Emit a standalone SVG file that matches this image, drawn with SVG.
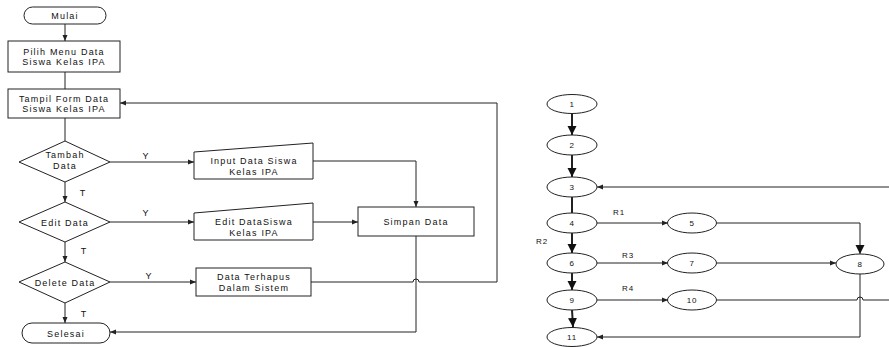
<svg xmlns="http://www.w3.org/2000/svg" width="889" height="347" viewBox="0 0 889 347">
<defs>
<style>
.shape{fill:#fff;stroke:#222;stroke-width:1}
.t{font-family:"Liberation Sans",Arial,sans-serif;font-size:9px;letter-spacing:1.2px;fill:#111;text-anchor:middle}
.n{font-family:"Liberation Sans",Arial,sans-serif;font-size:8px;letter-spacing:0.8px;fill:#111;text-anchor:middle}
.c{fill:none;stroke:#222;stroke-width:1}
.ct{fill:none;stroke:#222;stroke-width:2}
</style>
<marker id="a" markerUnits="userSpaceOnUse" markerWidth="7" markerHeight="6" refX="6" refY="3" orient="auto">
<path d="M0,0.5 L6,3 L0,5.5 z" fill="#222"/>
</marker>
<marker id="b" markerUnits="userSpaceOnUse" markerWidth="10" markerHeight="10" refX="9" refY="5" orient="auto">
<path d="M0,0.5 L9,5 L0,9.5 z" fill="#111"/>
</marker>
</defs>

<g id="connectors">
<line class="c" x1="65" y1="24" x2="65" y2="41" marker-end="url(#a)"/>
<line class="c" x1="65" y1="72" x2="65" y2="89"/>
<line class="c" x1="65" y1="118" x2="65" y2="141"/>
<line class="c" x1="65" y1="182" x2="65" y2="202" marker-end="url(#a)"/>
<line class="c" x1="65" y1="242" x2="65" y2="262" marker-end="url(#a)"/>
<line class="c" x1="65" y1="303" x2="65" y2="323" marker-end="url(#a)"/>
<line class="c" x1="110" y1="162" x2="194" y2="162" marker-end="url(#a)"/>
<line class="c" x1="110" y1="222" x2="194" y2="222" marker-end="url(#a)"/>
<line class="c" x1="110" y1="282" x2="196" y2="282" marker-end="url(#a)"/>
<path class="c" d="M313,161 L416,161 L416,207" marker-end="url(#a)"/>
<line class="c" x1="313" y1="222" x2="358" y2="222" marker-end="url(#a)"/>
<path class="c" d="M416,236 L416,332 L110,332" marker-end="url(#a)"/>
<path class="c" d="M311,282 L413,282 A3,3 0 0 1 419,282 L497,282 L497,103 L120,103" marker-end="url(#a)"/>
<text class="t" x="146" y="159">Y</text>
<text class="t" x="146" y="216">Y</text>
<text class="t" x="149" y="279">Y</text>
<text class="t" x="83" y="196">T</text>
<text class="t" x="84" y="254">T</text>
<text class="t" x="84" y="317">T</text>

<line class="ct" x1="572" y1="113" x2="572" y2="135" marker-end="url(#b)"/>
<line class="ct" x1="572" y1="155" x2="572" y2="177" marker-end="url(#b)"/>
<line class="ct" x1="572" y1="197" x2="572" y2="213"/>
<line class="ct" x1="572" y1="233" x2="572" y2="253" marker-end="url(#b)"/>
<line class="ct" x1="572" y1="273" x2="572" y2="290" marker-end="url(#b)"/>
<line class="ct" x1="572" y1="310" x2="573" y2="327" marker-end="url(#b)"/>
<line class="c" x1="889" y1="187" x2="597" y2="187" marker-end="url(#a)"/>
<line class="c" x1="597" y1="223" x2="668" y2="223" marker-end="url(#a)"/>
<line class="c" x1="597" y1="263" x2="668" y2="263" marker-end="url(#a)"/>
<line class="c" x1="597" y1="300" x2="668" y2="300" marker-end="url(#a)"/>
<path class="c" d="M717,223 L860,223 L860,254" marker-end="url(#b)"/>
<line class="c" x1="717" y1="263" x2="836" y2="263" marker-end="url(#a)"/>
<path class="c" d="M717,300 L857,300 A3,3 0 0 1 863,300 L889,300"/>
<path class="c" d="M860,273 L860,337 L597,337" marker-end="url(#a)"/>
<text class="n" x="619" y="215">R1</text>
<text class="n" x="542" y="244">R2</text>
<text class="n" x="628" y="258">R3</text>
<text class="n" x="628" y="291">R4</text>
</g>

<g id="mulai"><rect class="shape" x="24" y="7" width="82" height="17" rx="8.5"/><text class="t" x="65" y="19">Mulai</text></g>
<g id="pilih"><rect class="shape" x="8" y="41" width="112" height="31"/><text class="t" x="64" y="54.5">Pilih Menu Data</text><text class="t" x="64" y="65">Siswa Kelas IPA</text></g>
<g id="tampil"><rect class="shape" x="8" y="89" width="112" height="29"/><text class="t" x="64" y="101.5">Tampil Form Data</text><text class="t" x="64" y="112">Siswa Kelas IPA</text></g>
<g id="tambah"><polygon class="shape" points="65,141 110,162 65,182 19,162"/><text class="t" x="65" y="158">Tambah</text><text class="t" x="65" y="168.5">Data</text></g>
<g id="edit"><polygon class="shape" points="65,202 110,222 65,242 19,222"/><text class="t" x="65" y="225.5">Edit Data</text></g>
<g id="delete"><polygon class="shape" points="65,262 110,282 65,303 19,282"/><text class="t" x="65" y="285.5">Delete Data</text></g>
<g id="selesai"><rect class="shape" x="22" y="323" width="88" height="20" rx="10"/><text class="t" x="66" y="336.5">Selesai</text></g>
<g id="input"><polygon class="shape" points="194,152 313,143 313,179 194,179"/><text class="t" x="254" y="164">Input Data Siswa</text><text class="t" x="254" y="174.5">Kelas IPA</text></g>
<g id="editdata"><polygon class="shape" points="194,213 313,203 313,240 194,240"/><text class="t" x="254" y="225">Edit DataSiswa</text><text class="t" x="254" y="235.5">Kelas IPA</text></g>
<g id="terhapus"><rect class="shape" x="196" y="268" width="115" height="28"/><text class="t" x="254" y="280">Data Terhapus</text><text class="t" x="254" y="290.5">Dalam Sistem</text></g>
<g id="simpan"><rect class="shape" x="358" y="207" width="116" height="29"/><text class="t" x="416" y="225">Simpan Data</text></g>

<g id="n1"><ellipse class="shape" cx="572" cy="104" rx="25" ry="9.5"/><text class="n" x="572" y="107">1</text></g>
<g id="n2"><ellipse class="shape" cx="572" cy="145" rx="25" ry="10"/><text class="n" x="572" y="148">2</text></g>
<g id="n3"><ellipse class="shape" cx="572" cy="187" rx="25" ry="10"/><text class="n" x="572" y="190">3</text></g>
<g id="n4"><ellipse class="shape" cx="572" cy="223" rx="25" ry="10"/><text class="n" x="572" y="226">4</text></g>
<g id="n5"><ellipse class="shape" cx="692" cy="223" rx="24.5" ry="10"/><text class="n" x="692" y="226">5</text></g>
<g id="n6"><ellipse class="shape" cx="572" cy="263" rx="25" ry="10"/><text class="n" x="572" y="266">6</text></g>
<g id="n7"><ellipse class="shape" cx="692" cy="263" rx="24.5" ry="10"/><text class="n" x="692" y="266">7</text></g>
<g id="n8"><ellipse class="shape" cx="860" cy="264" rx="24" ry="10"/><text class="n" x="860" y="267">8</text></g>
<g id="n9"><ellipse class="shape" cx="572" cy="300" rx="25" ry="10"/><text class="n" x="572" y="303">9</text></g>
<g id="n10"><ellipse class="shape" cx="692" cy="300" rx="24.5" ry="10"/><text class="n" x="692" y="303">10</text></g>
<g id="n11"><ellipse class="shape" cx="572" cy="337" rx="25" ry="9.5"/><text class="n" x="572" y="340">11</text></g>
</svg>
